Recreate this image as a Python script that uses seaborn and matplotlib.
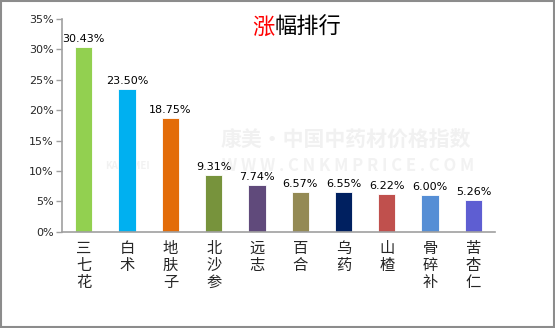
import matplotlib
matplotlib.use("Agg")
import matplotlib.pyplot as plt
import seaborn as sns
import pandas as pd
from matplotlib.patches import Rectangle
from matplotlib.ticker import FuncFormatter

herbs = ["三七花", "白术", "地肤子", "北沙参", "远志", "百合", "乌药", "山楂", "骨碎补", "苦杏仁"]
rise_pct = [30.43, 23.50, 18.75, 9.31, 7.74, 6.57, 6.55, 6.22, 6.00, 5.26]
bar_colors = ["#92D050", "#00B0F0", "#E36C09", "#77933C", "#604A7B",
              "#948A54", "#002060", "#C0504D", "#558ED5", "#5E5ED2"]
y_ticks = [0, 5, 10, 15, 20, 25, 30, 35]

sns.set_theme(style="white")
plt.rcParams["font.family"] = ["Noto Sans CJK SC", "DejaVu Sans"]

df = pd.DataFrame({"herb": herbs, "pct": rise_pct})

fig = plt.figure(figsize=(5.55, 3.28), dpi=100)
ax = fig.add_axes([0.112, 0.293, 0.780, 0.649])

# faint watermark behind the bars
ax.text(0.655, 0.435, "康美·中国中药材价格指数", transform=ax.transAxes, ha="center",
        va="center", fontsize=15, color="#F1F1F1", fontweight="bold", zorder=0)
ax.text(0.15, 0.31, "KANGMEI", transform=ax.transAxes, ha="center",
        va="center", fontsize=7, color="#F2F2F2", fontweight="bold", zorder=0)
ax.text(0.66, 0.31, "W W W . C N K M P R I C E . C O M", transform=ax.transAxes,
        ha="center", va="center", fontsize=12, color="#F2F2F2", fontweight="bold", zorder=0)

sns.barplot(data=df, x="herb", y="pct", hue="herb", palette=bar_colors,
            legend=False, width=0.4, ax=ax, saturation=1, zorder=2)

for patch, val in zip(ax.patches, rise_pct):
    patch.set_edgecolor("white")
    patch.set_linewidth(0.6)
    ax.text(patch.get_x() + patch.get_width() / 2, val + 0.5, f"{val:.2f}%",
            ha="center", va="bottom", fontsize=8, color="black",
            family="DejaVu Sans", zorder=3)

ax.set_ylim(0, 35)
ax.set_xlim(-0.5, len(herbs) - 0.5)
ax.set_yticks(y_ticks)
ax.yaxis.set_major_formatter(FuncFormatter(lambda v, _: f"{v:.0f}%"))
ax.set_xticks(range(len(herbs)))
ax.set_xticklabels(["\n".join(h) for h in herbs], fontsize=11, linespacing=1.0,
                   va="top")
ax.set_xlabel("")
ax.set_ylabel("")

for side in ["top", "right"]:
    ax.spines[side].set_visible(False)
for side in ["left", "bottom"]:
    ax.spines[side].set_color("#A0A0A0")
    ax.spines[side].set_linewidth(1.2)

ax.tick_params(axis="y", which="major", direction="out", length=4, width=1,
               color="#A0A0A0", labelsize=8, pad=2, left=True)
ax.tick_params(axis="x", length=0, pad=6)
for lbl in ax.get_yticklabels():
    lbl.set_family("DejaVu Sans")

# title with the first character in red
fig.text(0.495, 0.918, "涨", color="#FF0000", fontsize=16, ha="right", va="center")
fig.text(0.495, 0.918, "幅排行", color="black", fontsize=16, ha="left", va="center")

# outer frame
fig.patches.append(Rectangle((0.002, 0.003), 0.996, 0.994, transform=fig.transFigure,
                             fill=False, edgecolor="#8C8C8C", linewidth=1.5))

fig.savefig("out.png", dpi=100)
